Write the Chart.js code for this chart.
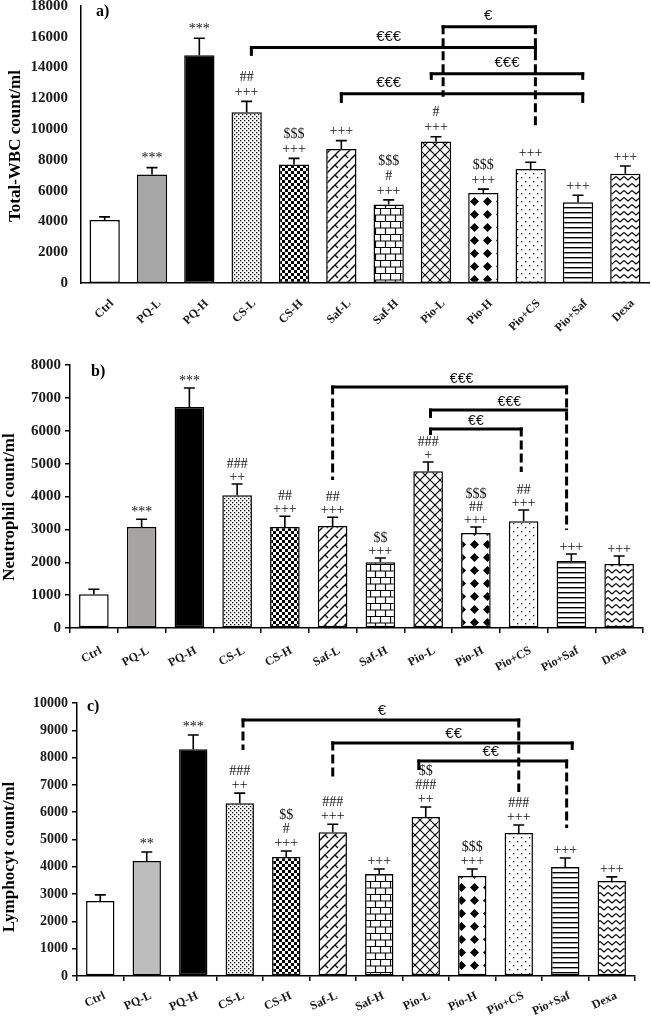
<!DOCTYPE html>
<html><head><meta charset="utf-8">
<script src="https://cdn.jsdelivr.net/npm/chart.js@4.4.1/dist/chart.umd.min.js"></script>
<style>
html,body{margin:0;padding:0;background:#fff;width:651px;height:1016px;overflow:hidden;position:relative}
canvas{position:absolute;left:0;display:block}
.xl{position:absolute;white-space:nowrap;font:bold 12px 'Liberation Serif','Times New Roman',serif;color:#1a1a1a;line-height:14px;transform-origin:100% 0}
</style></head><body>
<canvas id="ca" width="651" height="330" style="top:0px"></canvas>
<canvas id="cb" width="651" height="330" style="top:330px"></canvas>
<canvas id="cc" width="651" height="356" style="top:660px"></canvas>
<script>
const categories = ['Ctrl','PQ-L','PQ-H','CS-L','CS-H','Saf-L','Saf-H','Pio-L','Pio-H','Pio+CS','Pio+Saf','Dexa'];

// ---- Panel a: Total WBC ----
const wbcMean = [4100, 7050, 14800, 11100, 7700, 8700, 5100, 9200, 5850, 7400, 5250, 7100];
const wbcSem  = [200, 450, 1100, 700, 400, 550, 300, 300, 250, 450, 450, 500];
const wbcTicks = [0, 2000, 4000, 6000, 8000, 10000, 12000, 14000, 16000, 18000];
const wbcMarks = [[], ['***'], ['***'], ['+++','##'], ['+++','$$$'], ['+++'], ['+++','#','$$$'], ['+++','#'], ['+++','$$$'], ['+++'], ['+++'], ['+++']];
// [fromIndex, toIndex, level, label, labelIndex, leftEndValue, rightEndValue]
const wbcBrackets = [
  [3.1, 9.1, 15300, '€€€', 6.0, 14760, 14960],
  [7.15, 9.1, 16650, '€', 8.1, 12100, 10080],
  [6.9, 10.1, 13590, '€€€', 8.5, 13200, 13200],
  [5.0, 10.1, 12290, '€€€', 6.0, 11700, 11700]
];
const wbcBracketDashed = [[0,0],[1,1],[0,0],[0,0]];

// ---- Panel b: Neutrophil ----
const neuMean = [1030, 3070, 6720, 4040, 3070, 3100, 2000, 4770, 2890, 3250, 2040, 1950];
const neuSem  = [150, 240, 580, 340, 330, 270, 130, 280, 180, 340, 210, 240];
const neuTicks = [0, 1000, 2000, 3000, 4000, 5000, 6000, 7000, 8000];
const neuMarks = [[], ['***'], ['***'], ['++','###'], ['+++','##'], ['+++','##'], ['+++','$$'], ['+','###'], ['+++','##','$$$'], ['+++','##'], ['+++'], ['+++']];
const neuBrackets = [
  [5.0, 9.9, 7330, '€€€', 7.7, 4500, 2980],
  [7.05, 9.9, 6630, '€€€', 8.7, 6390, null],
  [7.05, 8.95, 6050, '€€', 8.0, 5870, 4745]
];
const neuBracketDashed = [[1,1],[0,0],[0,1]];

// ---- Panel c: Lymphocyte ----
const lymMean = [2750, 4210, 8310, 6330, 4360, 5270, 3740, 5820, 3660, 5240, 3990, 3480];
const lymSem  = [220, 330, 520, 370, 220, 290, 180, 370, 260, 290, 330, 150];
const lymTicks = [0, 1000, 2000, 3000, 4000, 5000, 6000, 7000, 8000, 9000, 10000];
const lymMarks = [[], ['**'], ['***'], ['++','###'], ['+++','#','$$'], ['+++','###'], ['+++'], ['++','###','$$'], ['+++','$$$'], ['+++','###'], ['+++'], ['+++']];
const lymBrackets = [
  [3.07, 9.0, 9377, '€', 6.06, 8280, 6740],
  [5.0, 10.15, 8535, '€€', 7.6, 7180, 8280],
  [6.85, 10.03, 7875, '€€', 8.4, 7545, 5420]
];
const lymBracketDashed = [[1,1],[1,0],[0,1]];

const SERIF = "'Liberation Serif', 'Times New Roman', serif";

function makePatterns(ctx, gray) {
  function tile(w, h, draw) {
    const c = document.createElement('canvas'); c.width = w; c.height = h;
    const g = c.getContext('2d');
    g.fillStyle = '#fff'; g.fillRect(0, 0, w, h);
    g.fillStyle = '#000'; g.strokeStyle = '#000';
    draw(g, w, h);
    return ctx.createPattern(c, 'repeat');
  }
  return [
    '#ffffff',
    gray,
    '#000000',
    tile(4, 4, g => { g.fillRect(0, 0, 1.3, 1.3); g.fillRect(2, 2, 1.3, 1.3); }),
    tile(6, 6, g => { g.fillRect(0, 0, 3, 3); g.fillRect(3, 3, 3, 3); }),
    tile(10, 10, g => { g.lineWidth = 1.4; g.beginPath();
      g.moveTo(-1, 11); g.lineTo(11, -1); g.moveTo(-1, 1); g.lineTo(1, -1); g.moveTo(9, 11); g.lineTo(11, 9);
      g.moveTo(5, 5); g.lineTo(8, 8); g.stroke(); }),
    tile(10, 13, g => { g.lineWidth = 1.2; g.beginPath();
      g.moveTo(0, 0.5); g.lineTo(10, 0.5); g.moveTo(0, 7); g.lineTo(10, 7);
      g.moveTo(0.5, 0.5); g.lineTo(0.5, 7); g.moveTo(5.5, 7); g.lineTo(5.5, 13); g.stroke(); }),
    tile(10, 10, g => { g.lineWidth = 1.1; g.beginPath();
      g.moveTo(-1, -1); g.lineTo(11, 11); g.moveTo(-1, 11); g.lineTo(11, -1); g.stroke(); }),
    tile(13, 13, g => { g.beginPath(); g.moveTo(6.5, 2); g.lineTo(11, 6.5); g.lineTo(6.5, 11); g.lineTo(2, 6.5); g.closePath(); g.fill(); }),
    tile(8, 8, g => { g.fillRect(1, 1, 1.3, 1.3); g.fillRect(5, 5, 1.3, 1.3); }),
    tile(4, 5, g => { g.fillRect(0, 2, 4, 1.4); }),
    tile(8, 7, g => { g.lineWidth = 1.1; g.beginPath(); g.moveTo(0, 1.5); g.lineTo(4, 5); g.lineTo(8, 1.5); g.stroke(); })
  ];
}

function extrasPlugin(cfg) {
  return {
    id: 'extras',
    afterDatasetsDraw(chart) {
      const ctx = chart.ctx, xs = chart.scales.x, ys = chart.scales.y;
      const meta = chart.getDatasetMeta(0);
      ctx.save();
      cfg.mean.forEach((m, i) => {
        const cx = meta.data[i].x;
        const y0 = ys.getPixelForValue(m), y1 = ys.getPixelForValue(m + cfg.sem[i]);
        ctx.strokeStyle = '#000'; ctx.lineWidth = 1.6; ctx.setLineDash([]);
        ctx.beginPath(); ctx.moveTo(cx, y0); ctx.lineTo(cx, y1);
        ctx.moveTo(cx - 5.5, y1); ctx.lineTo(cx + 5.5, y1); ctx.stroke();
        ctx.fillStyle = '#111'; ctx.font = cfg.markFont; ctx.textAlign = 'center'; ctx.textBaseline = 'middle';
        cfg.marks[i].forEach((t, k) => ctx.fillText(t, cx, y1 - cfg.markGap - k * cfg.markStep));
      });
      ctx.strokeStyle = '#000'; ctx.lineWidth = 3;
      cfg.brackets.forEach((b, bi) => {
        const [from, to, level, label, labelAt, lEnd, rEnd] = b;
        const dashed = cfg.dashed[bi];
        const x1 = xs.getPixelForValue(from), x2 = xs.getPixelForValue(to), yl = ys.getPixelForValue(level);
        ctx.setLineDash([]);
        ctx.beginPath(); ctx.moveTo(x1 - 1.5, yl); ctx.lineTo(x2 + 1.5, yl); ctx.stroke();
        [[x1, lEnd, dashed[0]], [x2, rEnd, dashed[1]]].forEach(([px, v, d]) => {
          if (v === null || v === undefined) return;
          const yp = ys.getPixelForValue(v);
          ctx.setLineDash(d ? [9, 4] : []);
          ctx.beginPath(); ctx.moveTo(px, yl - 1.5); ctx.lineTo(px, yp); ctx.stroke();
        });
        ctx.setLineDash([]);
        ctx.fillStyle = '#111'; ctx.font = cfg.euroFont; ctx.textAlign = 'center'; ctx.textBaseline = 'middle';
        ctx.fillText(label, xs.getPixelForValue(labelAt), yl - cfg.euroOffset);
      });
      ctx.fillStyle = '#000'; ctx.font = 'bold 17px ' + SERIF; ctx.textAlign = 'center'; ctx.textBaseline = 'middle';
      ctx.save(); ctx.translate(cfg.titleX, cfg.titleY); ctx.rotate(-Math.PI / 2); ctx.fillText(cfg.title, 0, 0); ctx.restore();
      ctx.font = 'bold 16px ' + SERIF; ctx.textAlign = 'left';
      ctx.fillText(cfg.letter, cfg.letterX, cfg.letterY);
      ctx.restore();
    }
  };
}

function build(id, top, p) {
  const canvas = document.getElementById(id);
  const ctx = canvas.getContext('2d');
  const fills = makePatterns(ctx, p.gray);
  const chart = new Chart(ctx, {
    type: 'bar',
    data: { labels: categories, datasets: [{ data: p.mean, backgroundColor: fills, borderColor: '#000', borderWidth: 1.5, borderSkipped: false, categoryPercentage: 1, barPercentage: p.barPct }] },
    options: {
      responsive: false, animation: false, devicePixelRatio: 1,
      layout: { padding: { top: p.top, right: p.right, left: 0, bottom: 0 } },
      plugins: { legend: { display: false }, tooltip: { enabled: false } },
      scales: {
        x: {
          grid: p.xTicks ? { display: true, drawOnChartArea: false, drawTicks: true, tickLength: 5, color: '#000', lineWidth: 1.5 } : { display: false, drawTicks: false },
          border: { display: true, color: '#000', width: 1.5 },
          ticks: { display: false },
          afterFit: s => { s.height = p.xH; s.paddingLeft = 0; s.paddingRight = 0; }
        },
        y: {
          min: 0, max: p.ticks[p.ticks.length - 1],
          afterBuildTicks: s => { s.ticks = p.ticks.map(v => ({ value: v })); },
          grid: p.yTicks ? { display: true, drawOnChartArea: false, drawTicks: true, tickLength: 5, color: '#000', lineWidth: 1.5 } : { display: false, drawTicks: false },
          border: { display: true, color: '#000', width: 1.5 },
          ticks: { padding: p.yPad, color: '#1a1a1a', font: { family: SERIF, size: p.yFont, weight: 'bold' }, callback: v => String(v) },
          afterFit: s => { s.width = p.yW; s.paddingTop = 0; s.paddingBottom = 0; }
        }
      }
    },
    plugins: [extrasPlugin(p)]
  });
  // category labels as real text, placed from the chart's own x scale
  const xs = chart.scales.x, axisY = chart.scales.y.getPixelForValue(0);
  categories.forEach((c, i) => {
    const el = document.createElement('div');
    el.className = 'xl';
    el.textContent = c;
    el.style.right = (651 - (xs.getPixelForValue(i) + p.labDx)) + 'px';
    el.style.top = (top + axisY + p.labDy) + 'px';
    el.style.transform = 'rotate(-' + p.rot + 'deg)';
    document.body.appendChild(el);
  });
  return chart;
}

build('ca', 0, {
  mean: wbcMean, sem: wbcSem, ticks: wbcTicks, marks: wbcMarks, brackets: wbcBrackets, dashed: wbcBracketDashed,
  gray: '#a6a6a6', barPct: 0.64, top: 6, right: 2, xH: 47, yW: 81, rot: 45, labDx: 2, labDy: 13, xTicks: false, yTicks: false, yPad: 13, yFont: 15,
  markFont: '14px ' + SERIF, markGap: 9, markStep: 15, euroFont: '15px "Liberation Sans", Arial, sans-serif', euroOffset: 11,
  title: 'Total-WBC count/ml', titleX: 16, titleY: 146, letter: 'a)', letterX: 96, letterY: 12
});
build('cb', 330, {
  mean: neuMean, sem: neuSem, ticks: neuTicks, marks: neuMarks, brackets: neuBrackets, dashed: neuBracketDashed,
  gray: '#a6a3a3', barPct: 0.62, top: 35, right: 8, xH: 32, yW: 70, rot: 28, labDx: 3, labDy: 15, xTicks: true, yTicks: true, yPad: 4, yFont: 15,
  markFont: '14px ' + SERIF, markGap: 7, markStep: 13, euroFont: '14px "Liberation Sans", Arial, sans-serif', euroOffset: 8,
  title: 'Neutrophil count/ml', titleX: 10, titleY: 177, letter: 'b)', letterX: 91, letterY: 42
});
build('cc', 660, {
  mean: lymMean, sem: lymSem, ticks: lymTicks, marks: lymMarks, brackets: lymBrackets, dashed: lymBracketDashed,
  gray: '#bdbdbd', barPct: 0.61, top: 43, right: 16, xH: 40, yW: 77, rot: 25, labDx: 1, labDy: 12, xTicks: true, yTicks: true, yPad: 4, yFont: 14,
  markFont: '14px ' + SERIF, markGap: 8, markStep: 14, euroFont: '15px "Liberation Sans", Arial, sans-serif', euroOffset: 9,
  title: 'Lymphocyt count/ml', titleX: 10, titleY: 197, letter: 'c)', letterX: 87, letterY: 47
});
</script>
</body></html>
